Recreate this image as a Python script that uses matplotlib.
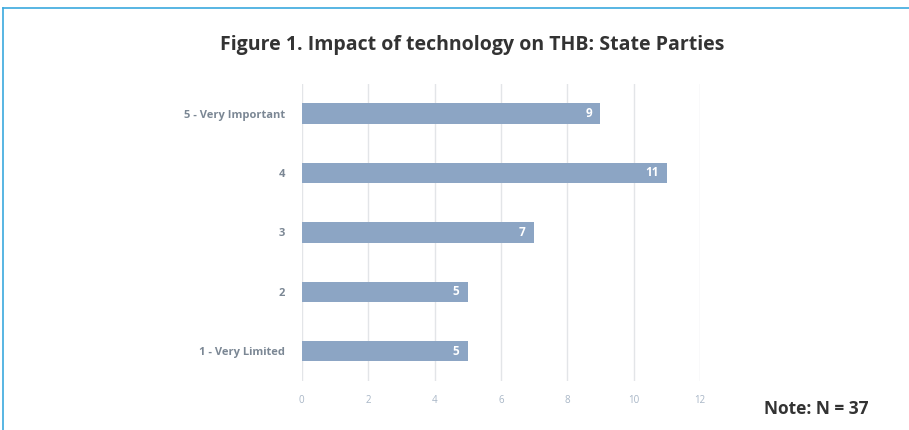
import matplotlib.pyplot as plt
from matplotlib.lines import Line2D

# Survey responses (bottom to top)
categories = ["1 - Very Limited", "2", "3", "4", "5 - Very Important"]
counts = [5, 5, 7, 11, 9]
x_ticks = [0, 2, 4, 6, 8, 10, 12]

BAR_COLOR = "#8ca5c4"
LABEL_COLOR = "#7b8794"
TICK_COLOR = "#a8b6c6"
GRID_COLOR = "#e3e5e8"
FRAME_COLOR = "#3ba9de"

plt.rcParams["font.family"] = ["Open Sans", "DejaVu Sans"]

fig = plt.figure(figsize=(9.09, 4.30), dpi=100)
ax = fig.add_axes([0.332, 0.114, 0.438, 0.691])

ypos = range(len(categories))
bars = ax.barh(ypos, counts, height=0.34, color=BAR_COLOR, zorder=3)

for rect, val in zip(bars, counts):
    ax.text(rect.get_width() - 0.25, rect.get_y() + rect.get_height() / 2,
            str(val), ha="right", va="center", color="white",
            fontsize=8.5, fontweight="bold", zorder=4)

ax.set_xlim(0, 12)
ax.set_ylim(-0.5, 4.5)
ax.set_xticks(x_ticks)
ax.set_yticks(list(ypos))
ax.set_yticklabels(categories)
ax.tick_params(axis="y", length=0, pad=12, labelsize=8, labelcolor=LABEL_COLOR)
ax.tick_params(axis="x", length=0, pad=10, labelsize=7, labelcolor=TICK_COLOR)
for lbl in ax.get_yticklabels():
    lbl.set_fontweight("bold")

ax.grid(axis="x", color=GRID_COLOR, linewidth=1, zorder=0)
for side in ["top", "right", "bottom", "left"]:
    ax.spines[side].set_visible(False)

fig.text(0.52, 0.895, "Figure 1. Impact of technology on THB: State Parties",
         ha="center", va="center", fontsize=14, fontweight="bold", color="#333333")
fig.text(0.955, 0.048, "Note: N = 37", ha="right", va="center",
         fontsize=12.5, fontweight="bold", color="#333333")

# Blue frame at top and left
fig.add_artist(Line2D([0.0035, 1.0], [0.981, 0.981], transform=fig.transFigure,
                      color=FRAME_COLOR, linewidth=1.2))
fig.add_artist(Line2D([0.0035, 0.0035], [0.0, 0.981], transform=fig.transFigure,
                      color=FRAME_COLOR, linewidth=1.2))

fig.savefig("out.png", dpi=100)
